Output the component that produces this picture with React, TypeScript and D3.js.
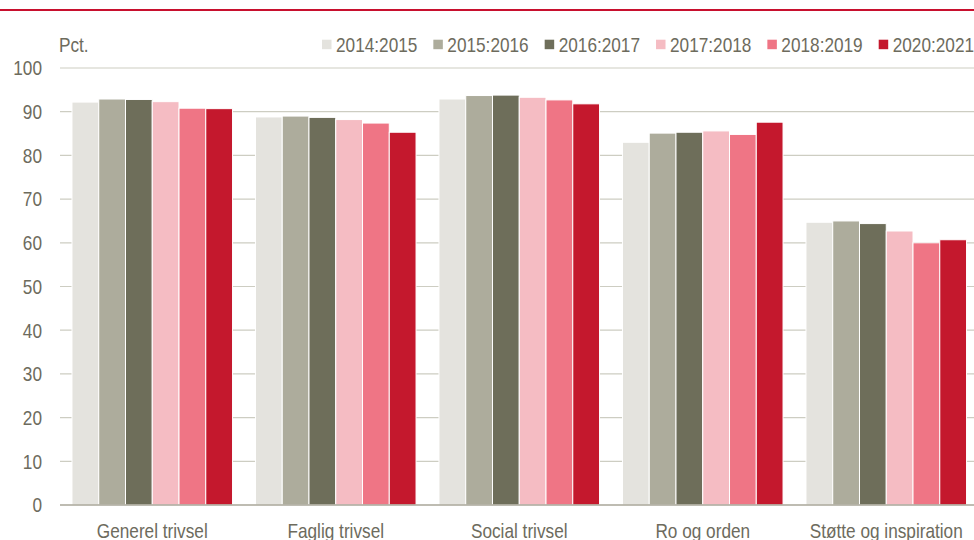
import React from "react";
import * as d3 from "d3";

const categories = ["Generel trivsel", "Faglig trivsel", "Social trivsel", "Ro og orden", "Støtte og inspiration"];
const seriesNames = ["2014:2015", "2015:2016", "2016:2017", "2017:2018", "2018:2019", "2020:2021"];
const seriesColors = ["#e4e3de", "#adac9c", "#6e6e5a", "#f5bcc3", "#ef7585", "#c4182d"];
const s2014 = [92.2, 88.8, 92.9, 83.0, 64.7];
const s2015 = [92.9, 89.0, 93.7, 85.1, 65.0];
const s2016 = [92.8, 88.7, 93.8, 85.3, 64.4];
const s2017 = [92.3, 88.2, 93.3, 85.6, 62.7];
const s2018 = [90.8, 87.4, 92.7, 84.8, 60.0];
const s2020 = [90.7, 85.3, 91.8, 87.6, 60.7];
const seriesValues = [s2014, s2015, s2016, s2017, s2018, s2020];
const yTicks = [0, 10, 20, 30, 40, 50, 60, 70, 80, 90, 100];

const W = 974;
const H = 540;
const FONT = "'Liberation Sans', Arial, sans-serif";
const TEXT = "#6d6b5d";
const NARROW = 0.82;

function NText({ x, y, anchor = "start", children }: { x: number; y: number; anchor?: string; children: React.ReactNode }) {
  return (
    <text
      transform={`translate(${x},${y}) scale(${NARROW},1)`}
      textAnchor={anchor}
      fontSize={21}
      fill={TEXT}
    >
      {children}
    </text>
  );
}

export default function App() {
  const x0 = d3.scaleBand<string>().domain(categories).range([60.5, 978]).paddingInner(0.125).paddingOuter(0.0625);
  const x1 = d3.scaleBand<string>().domain(seriesNames).range([0, x0.bandwidth()]).padding(0);
  const y = d3.scaleLinear().domain([0, 100]).range([505, 68]);

  const legendX = d3.scaleLinear().domain([0, 5]).range([322, 878.7]);

  return (
    <svg width={W} height={H} style={{ position: "absolute", left: 0, top: 0, background: "#fff" }} fontFamily={FONT}>
      <rect x={0} y={0} width={W} height={H} fill="#fff" />
      <line x1={0} x2={W} y1={10} y2={10} stroke="#c8102e" strokeWidth={2} />
      {/* gridlines */}
      {yTicks.filter((t) => t > 0).map((t) => (
        <line key={t} x1={60} x2={W} y1={y(t)} y2={y(t)} stroke="#cdcdc2" strokeWidth={1.2} />
      ))}
      {/* y tick labels */}
      {yTicks.map((t) => (
        <NText key={t} x={42} y={y(t) + 7.3} anchor="end">
          {t}
        </NText>
      ))}
      <NText x={59} y={51.8}>Pct.</NText>
      {/* bars */}
      {categories.map((c, ci) => (
        <g key={c} transform={`translate(${x0(c)},0)`}>
          {seriesNames.map((s, si) => {
            const v = seriesValues[si][ci];
            return (
              <rect
                key={s}
                x={x1(s)}
                y={y(v)}
                width={x1.bandwidth()}
                height={y(0) - y(v)}
                fill={seriesColors[si]}
                stroke="#fff"
                strokeWidth={1}
              />
            );
          })}
        </g>
      ))}
      {/* baseline */}
      <line x1={60} x2={W} y1={505} y2={505} stroke="#a8a698" strokeWidth={1.5} />
      {/* category labels */}
      {categories.map((c) => (
        <NText key={c} x={(x0(c) as number) + x0.bandwidth() / 2} y={538.3} anchor="middle">
          {c}
        </NText>
      ))}
      {/* legend */}
      {seriesNames.map((s, i) => (
        <g key={s} transform={`translate(${legendX(i)},0)`}>
          <rect x={0} y={39.7} width={9.5} height={9.5} fill={seriesColors[i]} />
          <NText x={14} y={51.8}>{s}</NText>
        </g>
      ))}
    </svg>
  );
}
